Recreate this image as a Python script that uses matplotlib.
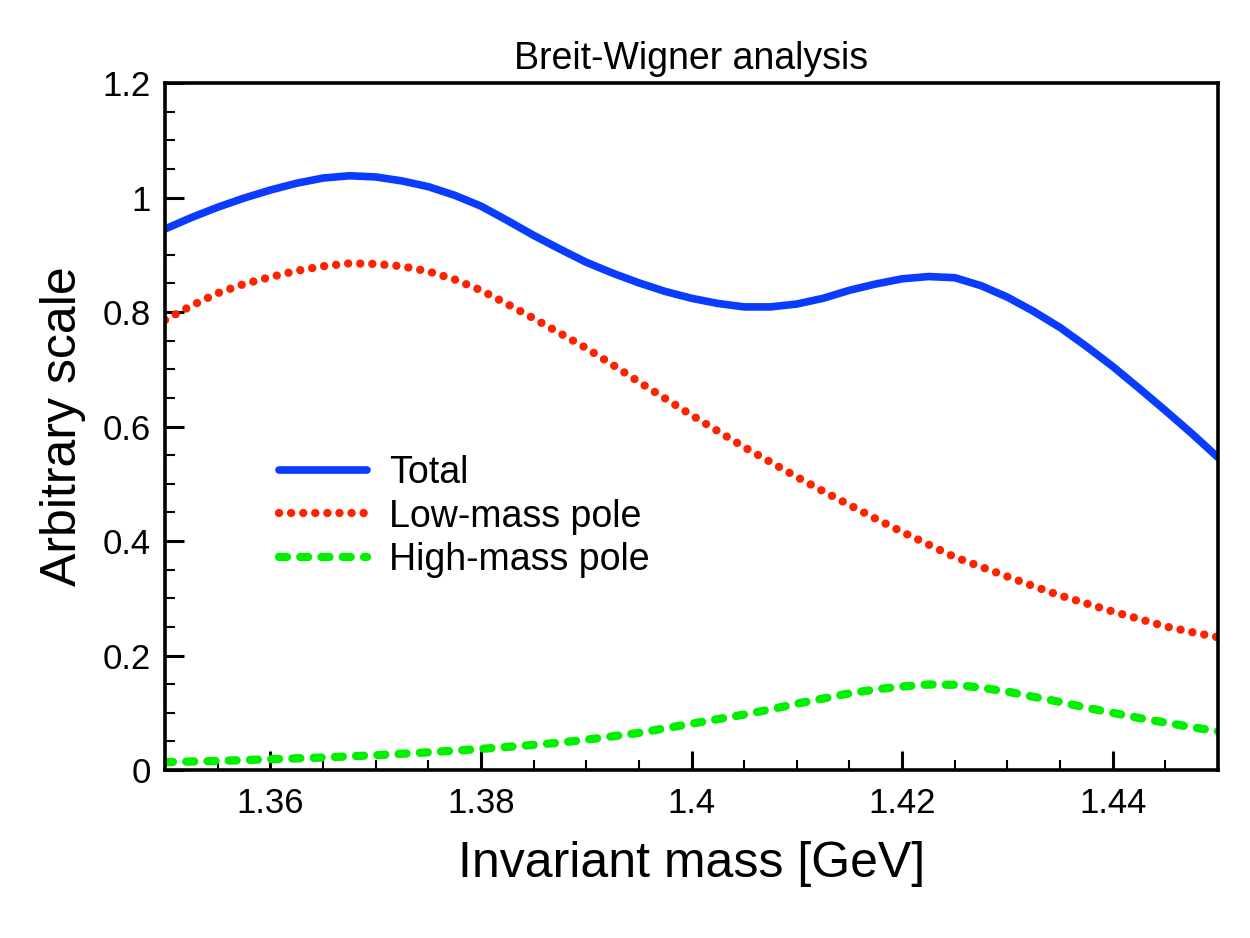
import numpy as np
import matplotlib
matplotlib.use("Agg")
import matplotlib.pyplot as plt
from matplotlib.ticker import MultipleLocator, FuncFormatter

plt.rcParams['font.family'] = ['Liberation Sans', 'DejaVu Sans']

# values (GeV, arbitrary units)
mass = [1.35, 1.3525, 1.355, 1.3575, 1.36, 1.3625, 1.365, 1.3675, 1.37, 1.3725,
        1.375, 1.3775, 1.38, 1.3825, 1.385, 1.3875, 1.39, 1.3925, 1.395, 1.3975,
        1.40, 1.4025, 1.405, 1.4075, 1.41, 1.4125, 1.415, 1.4175, 1.42, 1.4225,
        1.425, 1.4275, 1.43, 1.4325, 1.435, 1.4375, 1.44, 1.4425, 1.445, 1.4475, 1.45]

total = [0.945, 0.965, 0.983, 0.999, 1.013, 1.025, 1.034, 1.038, 1.036, 1.029,
         1.019, 1.004, 0.985, 0.960, 0.934, 0.910, 0.887, 0.868, 0.851, 0.836,
         0.824, 0.815, 0.809, 0.809, 0.814, 0.824, 0.838, 0.849, 0.858, 0.862,
         0.860, 0.846, 0.826, 0.801, 0.773, 0.740, 0.705, 0.667, 0.628, 0.588, 0.546]

low_pole = [0.786, 0.811, 0.833, 0.849, 0.861, 0.872, 0.880, 0.885, 0.884, 0.880,
            0.871, 0.857, 0.838, 0.814, 0.789, 0.763, 0.737, 0.708, 0.678, 0.649,
            0.620, 0.592, 0.564, 0.538, 0.512, 0.487, 0.463, 0.439, 0.416, 0.394,
            0.372, 0.355, 0.338, 0.321, 0.305, 0.291, 0.277, 0.264, 0.251, 0.241, 0.232]

high_pole = [0.014, 0.015, 0.016, 0.0175, 0.019, 0.0205, 0.022, 0.024, 0.026, 0.0285,
             0.031, 0.034, 0.037, 0.0405, 0.044, 0.048, 0.053, 0.059, 0.065, 0.073,
             0.081, 0.089, 0.097, 0.106, 0.116, 0.125, 0.134, 0.141, 0.146, 0.1495,
             0.149, 0.144, 0.137, 0.128, 0.119, 0.109, 0.100, 0.091, 0.083, 0.075, 0.068]

fig = plt.figure(figsize=(12.5, 9.38), dpi=100)
ax = fig.add_axes([0.132, 0.179, 0.8424, 0.7325])

ax.plot(mass, total, color='#0a3cff', lw=5.5, solid_capstyle='round',
        solid_joinstyle='round', label='Total')
ax.plot(mass, low_pole, color='#ff2200', lw=6, ls=(0, (0.01, 1.44)),
        dash_capstyle='round', label='Low-mass pole')
ax.plot(mass, high_pole, color='#00f000', lw=6, ls=(0, (0.95, 1.6)),
        dash_capstyle='round', label='High-mass pole')

ax.set_xlim(1.35, 1.45)
ax.set_ylim(0, 1.2)
ax.xaxis.set_major_locator(MultipleLocator(0.02))
ax.xaxis.set_minor_locator(MultipleLocator(0.005))
ax.yaxis.set_major_locator(MultipleLocator(0.2))
ax.yaxis.set_minor_locator(MultipleLocator(0.05))
fmt = FuncFormatter(lambda v, p: '{:g}'.format(round(v, 6)))
ax.xaxis.set_major_formatter(fmt)
ax.yaxis.set_major_formatter(fmt)

ax.tick_params(which='both', direction='in', top=False, right=False, labelsize=25)
ax.tick_params(which='major', length=14, width=2.2)
ax.tick_params(which='minor', length=7, width=1.5)
ax.tick_params(axis='x', pad=12)
ax.tick_params(axis='y', pad=10)
for s in ax.spines.values():
    s.set_linewidth(2.6)

ax.set_xlabel('Invariant mass [GeV]', fontsize=36, labelpad=15)
ax.set_ylabel('Arbitrary scale', fontsize=36, labelpad=12)
ax.set_title('Breit-Wigner analysis', fontsize=27, pad=10)

ax.legend(loc='center left', bbox_to_anchor=(0.108, 0.369), frameon=False, fontsize=27,
          borderpad=0, borderaxespad=0, handlelength=2.35, handletextpad=0.6, labelspacing=0.2)

fig.savefig('out.png', dpi=100)
